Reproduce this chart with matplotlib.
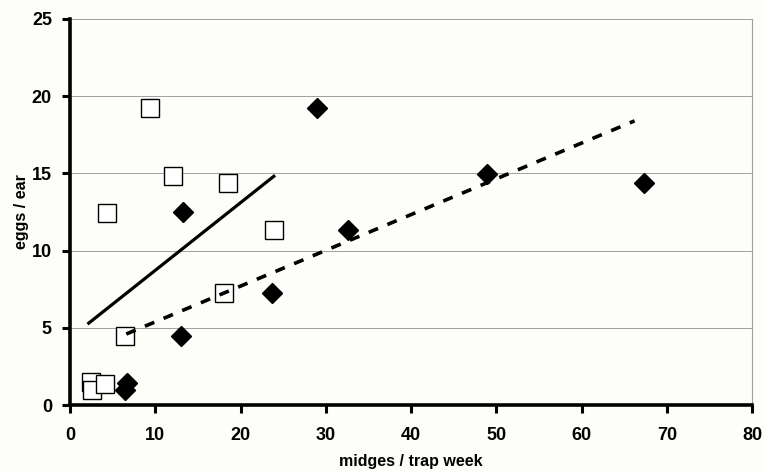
import numpy as np
import matplotlib
matplotlib.use('Agg')
import matplotlib.pyplot as plt

plt.rcParams['font.family'] = ['Liberation Sans', 'DejaVu Sans']
plt.rcParams['font.weight'] = 'bold'

# open squares
sq_x = [9.4, 12.1, 18.5, 4.3, 23.9, 18.1, 6.4, 2.5, 2.6, 4.1]
sq_y = [19.2, 14.8, 14.4, 12.4, 11.3, 7.25, 4.5, 1.5, 0.97, 1.35]

# filled diamonds
dm_x = [29.0, 48.9, 67.3, 32.6, 23.7, 13.2, 13.0, 6.7, 6.4]
dm_y = [19.2, 14.95, 14.4, 11.3, 7.25, 12.5, 4.5, 1.4, 1.0]

# trend lines: slope, intercept, x range
sq_fit = (0.438, 4.34, 2.2, 23.9)
dm_fit = (0.2315, 3.07, 6.6, 66.2)

xticks = [0, 10, 20, 30, 40, 50, 60, 70, 80]
yticks = [0, 5, 10, 15, 20, 25]

fig = plt.figure(figsize=(7.64, 4.71), dpi=100)
fig.patch.set_facecolor('#fdfdf9')
ax = fig.add_axes([0.0916, 0.140, 0.893, 0.820])
ax.set_facecolor('#fdfdf9')

for v in yticks[1:]:
    ax.axhline(v, color='#a0a0a0', lw=0.7, zorder=1)

ax.plot(sq_x, sq_y, 's', ms=12.5, mfc='white', mec='black', mew=1.0, zorder=3)
ax.plot(dm_x, dm_y, 'D', ms=9.8, mfc='black', mec='black', zorder=3)

m, b, x0, x1 = sq_fit
xs = np.array([x0, x1])
ax.plot(xs, m * xs + b, '-', color='black', lw=2.3, zorder=4)
m, b, x0, x1 = dm_fit
xs = np.array([x0, x1])
ax.plot(xs, m * xs + b, color='black', lw=2.6, dashes=(2.8, 2.8), zorder=4)

ax.set_xlim(0, 80)
ax.set_ylim(0, 25)
ax.set_xticks(xticks)
ax.set_yticks(yticks)

for s in ['left', 'bottom']:
    ax.spines[s].set_linewidth(2.6)
    ax.spines[s].set_color('black')
ax.spines['top'].set_visible(False)
ax.spines['right'].set_color('#a0a0a0')
ax.spines['right'].set_linewidth(0.8)

ax.tick_params(axis='both', direction='out', length=6, width=2.2, labelsize=13)
ax.tick_params(axis='x', pad=10)
ax.tick_params(axis='y', pad=7)
ax.set_xlabel('midges / trap week', fontsize=11.5, fontweight='bold', labelpad=7)
ax.set_ylabel('eggs / ear', fontsize=11.5, fontweight='bold', labelpad=2)

fig.savefig('out.png', dpi=100, facecolor=fig.get_facecolor())
